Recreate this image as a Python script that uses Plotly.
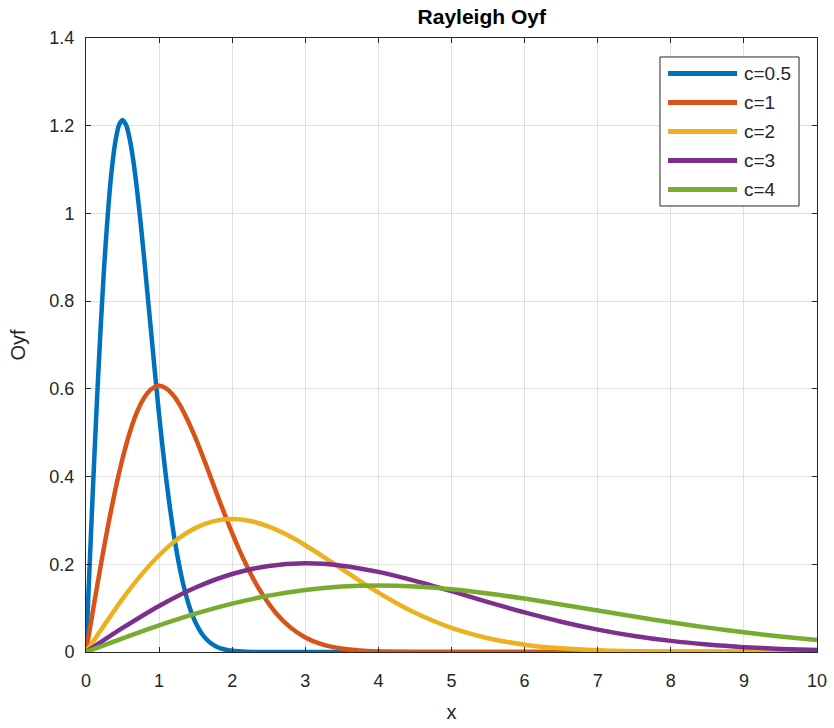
import plotly.graph_objects as go

# Values (Rayleigh densities)
x_c05 = [0, 0.05, 0.1, 0.15, 0.2, 0.25, 0.3, 0.35, 0.4, 0.45, 0.5, 0.55, 0.6, 0.65, 0.7, 0.75, 0.8, 0.85, 0.9, 0.95,
         1.0, 1.05, 1.1, 1.15, 1.2, 1.25, 1.3, 1.35, 1.4, 1.45, 1.5, 1.6, 1.7, 1.8, 1.9, 2.0, 2.2, 2.5, 3, 4, 5, 6, 7, 8, 9, 10]
y_c05 = [0, 0.199, 0.392, 0.574, 0.738, 0.883, 1.002, 1.096, 1.162, 1.201, 1.213, 1.201, 1.168, 1.117, 1.051, 0.974,
         0.890, 0.801, 0.713, 0.625, 0.541, 0.463, 0.391, 0.327, 0.269, 0.220, 0.177, 0.141, 0.111, 0.0865, 0.0667,
         0.0382, 0.0210, 0.0110, 0.0056, 0.0027, 0.0006, 0, 0, 0, 0, 0, 0, 0, 0, 0]

x_c1 = [0, 0.1, 0.2, 0.3, 0.4, 0.5, 0.6, 0.7, 0.8, 0.9, 1.0, 1.1, 1.2, 1.3, 1.4, 1.5, 1.6, 1.7, 1.8, 1.9, 2.0, 2.1,
        2.2, 2.3, 2.4, 2.6, 2.8, 3.0, 3.2, 3.4, 3.6, 3.8, 4.0, 4.5, 5, 6, 7, 8, 9, 10]
y_c1 = [0, 0.0995, 0.196, 0.2868, 0.369, 0.4412, 0.501, 0.5479, 0.581, 0.6003, 0.607, 0.6007, 0.584, 0.5585, 0.525,
        0.4870, 0.445, 0.4007, 0.356, 0.3126, 0.271, 0.2316, 0.196, 0.1633, 0.135, 0.0885, 0.0556, 0.0333,
        0.0191, 0.0105, 0.0055, 0.0028, 0.0013, 0.0002, 0, 0, 0, 0, 0, 0]

x_c2 = [0, 0.5, 0.75, 1.0, 1.25, 1.5, 1.75, 2.0, 2.25, 2.5, 2.75, 3.0, 3.25, 3.5, 3.75, 4.0, 4.25, 4.5, 5.0, 5.5,
        6.0, 6.5, 7.0, 7.5, 8.0, 8.5, 9.0, 9.5, 10.0]
y_c2 = [0, 0.1212, 0.1748, 0.2206, 0.2571, 0.2830, 0.2984, 0.3033, 0.2987, 0.2861, 0.2672, 0.2435, 0.2170, 0.1893,
        0.1616, 0.1353, 0.1111, 0.0895, 0.0549, 0.0314, 0.0167, 0.0083, 0.0038, 0.0017, 0.0007, 0.0003, 0.0001,
        0.0000, 0.0000]

x_half = [0, 0.5, 1.0, 1.5, 2.0, 2.5, 3.0, 3.5, 4.0, 4.5, 5.0, 5.5, 6.0, 6.5, 7.0, 7.5, 8.0, 8.5, 9.0, 9.5, 10.0]
y_c3 = [0, 0.0548, 0.1051, 0.1471, 0.1779, 0.1963, 0.2022, 0.1969, 0.1827, 0.1623, 0.1386, 0.1138, 0.0902, 0.0691,
        0.0511, 0.0366, 0.0254, 0.0171, 0.0111, 0.0070, 0.0043]
y_c4 = [0, 0.0310, 0.0606, 0.0874, 0.1103, 0.1285, 0.1415, 0.1492, 0.1516, 0.1494, 0.1431, 0.1336, 0.1218, 0.1085,
        0.0946, 0.0808, 0.0677, 0.0556, 0.0448, 0.0354, 0.0275]

names = ["c=0.5", "c=1", "c=2", "c=3", "c=4"]
colors = ["#0072BD", "#D95319", "#EDB120", "#7E2F8E", "#77AC30"]
series = [(x_c05, y_c05), (x_c1, y_c1), (x_c2, y_c2), (x_half, y_c3), (x_half, y_c4)]

fig = go.Figure()
for (xs, ys), n, col in zip(series, names, colors):
    fig.add_trace(go.Scatter(x=xs, y=ys, mode="lines", name=n, showlegend=False,
                             line=dict(color=col, width=4.5, shape="spline", smoothing=0.7)))

# Legend drawn as a boxed key (paper coordinates)
leg_y = [0.9422, 0.8949, 0.8477, 0.8005, 0.7533]
shapes = [dict(type="rect", xref="paper", yref="paper", x0=0.7852, x1=0.9754, y0=0.7264, y1=0.9691,
               line=dict(color="#262626", width=1), fillcolor="white", layer="above")]
annotations = []
for yy, n, col in zip(leg_y, names, colors):
    shapes.append(dict(type="line", xref="paper", yref="paper", x0=0.7962, x1=0.8906, y0=yy, y1=yy,
                       line=dict(color=col, width=5), layer="above"))
    annotations.append(dict(xref="paper", yref="paper", x=0.8974, y=yy, xanchor="left", yanchor="middle",
                            text=n, showarrow=False, font=dict(size=19, color="#262626")))

font_family = "Liberation Sans, Arial, sans-serif"
txt = "#262626"
fig.update_layout(
    width=834, height=728,
    margin=dict(l=86, r=17, t=38, b=76),
    paper_bgcolor="white", plot_bgcolor="white",
    font=dict(family=font_family, color=txt, size=18),
    title=dict(text="<b>Rayleigh Oyf</b>", x=(86 + 817) / 2 / 834, xanchor="center", y=1 - 17 / 728, yanchor="middle",
               xref="paper", font=dict(size=21, color="black")),
    shapes=shapes, annotations=annotations,
)
fig.update_xaxes(range=[0, 10], dtick=1, tick0=0, showgrid=True, gridcolor="#e0e0e0", gridwidth=1,
                 showline=True, linecolor="#262626", linewidth=1, mirror="ticks",
                 ticks="inside", ticklen=5, tickcolor="#262626", zeroline=False, automargin=False,
                 tickfont=dict(size=18, color=txt), ticklabelstandoff=12,
                 title=dict(text="x", font=dict(size=20, color=txt), standoff=15))
fig.update_yaxes(range=[0, 1.4], dtick=0.2, tick0=0, showgrid=True, gridcolor="#e0e0e0", gridwidth=1,
                 showline=True, linecolor="#262626", linewidth=1, mirror="ticks",
                 ticks="inside", ticklen=5, tickcolor="#262626", zeroline=False, automargin=False,
                 tickfont=dict(size=18, color=txt), ticklabelstandoff=7,
                 title=dict(text="Oyf", font=dict(size=20, color=txt), standoff=18))

fig.write_html("out.html")
